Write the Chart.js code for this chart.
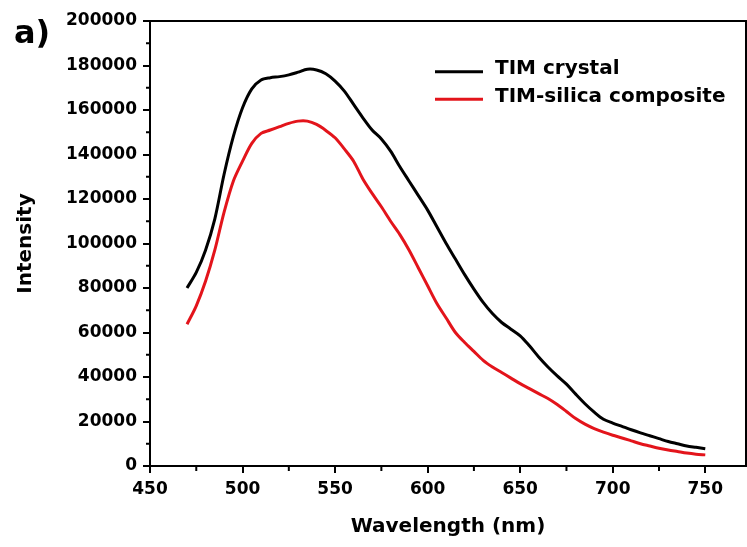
<!DOCTYPE html>
<html>
<head>
<meta charset="utf-8">
<script src="https://cdn.jsdelivr.net/npm/chart.js@4.4.1/dist/chart.umd.min.js"></script>
<style>
  html, body { margin: 0; padding: 0; background: #fff; }
  #chart { display: block; }
</style>
</head>
<body>
<canvas id="chart" width="747" height="547"></canvas>
<script>
// emission spectra
const wavelength = [470, 475, 480, 485, 490, 495, 500, 505, 510, 515, 520, 525, 530, 535, 540, 545, 550, 555, 560, 565,
  570, 575, 580, 585, 590, 595, 600, 605, 610, 615, 620, 625, 630, 635, 640, 645, 650, 655, 660, 665,
  670, 675, 680, 685, 690, 695, 700, 705, 710, 715, 720, 725, 730, 735, 740, 745, 750];
const crystal = [80000, 87000, 97000, 111000, 131000, 148000, 161000, 169500, 173500, 174500, 175000, 175800, 177000, 178300, 178000, 176300, 173000, 168500, 162500, 156500,
  151000, 147000, 141500, 134500, 128000, 121500, 115000, 107500, 100000, 93000, 86000, 79500, 73500, 68500, 64500, 61500, 58500, 54000, 49000, 44500,
  40500, 36800, 32300, 28000, 24200, 21000, 19300, 17800, 16300, 14900, 13600, 12300, 11000, 10000, 9000, 8400, 7800];
const composite = [63700, 72000, 83000, 97000, 114000, 128000, 137000, 145000, 149500, 151000, 152500, 154000, 155000, 155000, 153500, 150800, 147500, 142500, 137000, 129000,
  122500, 116500, 110000, 104000, 97000, 89000, 81000, 73000, 66500, 60000, 55500, 51500, 47500, 44500, 42000, 39500, 37000, 34800, 32500, 30300,
  27600, 24500, 21300, 18800, 16800, 15200, 13800, 12600, 11300, 10000, 9000, 8000, 7200, 6500, 5800, 5300, 5000];
const seriesNames = ['TIM crystal', 'TIM-silica composite'];
const seriesColors = ['#000000', '#e3141b'];

const xTicks = [450, 500, 550, 600, 650, 700, 750];
const yTicks = [0, 20000, 40000, 60000, 80000, 100000, 120000, 140000, 160000, 180000, 200000];

const toPoints = ys => wavelength.map((w, i) => ({ x: w, y: ys[i] }));

const FONT = 'DejaVu Sans';

// frame, minor ticks, legend and panel letter
const extras = {
  id: 'extras',
  afterDraw(chart) {
    const ctx = chart.ctx;
    const a = chart.chartArea;
    const xs = chart.scales.x, ys = chart.scales.y;
    ctx.save();
    ctx.strokeStyle = '#000';
    ctx.lineWidth = 2;
    ctx.beginPath();
    ctx.moveTo(a.left, a.top);
    ctx.lineTo(a.right, a.top);
    ctx.lineTo(a.right, a.bottom);
    ctx.stroke();

    // minor ticks
    ctx.beginPath();
    for (let v = 475; v < 772; v += 50) {
      const px = xs.getPixelForValue(v);
      ctx.moveTo(px, a.bottom);
      ctx.lineTo(px, a.bottom + 5);
    }
    for (let v = 10000; v < 200000; v += 20000) {
      const py = ys.getPixelForValue(v);
      ctx.moveTo(a.left, py);
      ctx.lineTo(a.left - 4, py);
    }
    ctx.stroke();

    // legend
    const lx = 435, lw = 48, tx = 495;
    const rows = [{ line: 71.7, base: 74.3 }, { line: 99.3, base: 101.7 }];
    chart.data.datasets.forEach((ds, i) => {
      ctx.strokeStyle = ds.borderColor;
      ctx.lineWidth = 3;
      ctx.beginPath();
      ctx.moveTo(lx, rows[i].line);
      ctx.lineTo(lx + lw, rows[i].line);
      ctx.stroke();
      ctx.fillStyle = '#000';
      ctx.font = 'bold 20px "' + FONT + '"';
      ctx.textBaseline = 'alphabetic';
      ctx.textAlign = 'left';
      ctx.fillText(ds.label, tx, rows[i].base);
    });

    ctx.font = 'bold 32px "' + FONT + '"';
    ctx.fillStyle = '#000';
    ctx.fillText('a)', 14, 43);
    ctx.restore();
  }
};

new Chart(document.getElementById('chart'), {
  type: 'line',
  data: {
    datasets: [
      { label: seriesNames[0], data: toPoints(crystal), borderColor: seriesColors[0], borderWidth: 3, pointRadius: 0, tension: 0.3, fill: false },
      { label: seriesNames[1], data: toPoints(composite), borderColor: seriesColors[1], borderWidth: 3, pointRadius: 0, tension: 0.3, fill: false }
    ]
  },
  options: {
    responsive: false,
    animation: false,
    layout: { padding: { top: 21, right: 1, left: 0, bottom: 0 } },
    plugins: { legend: { display: false }, tooltip: { enabled: false } },
    scales: {
      x: {
        type: 'linear',
        min: 450,
        max: 772,
        afterBuildTicks: s => { s.ticks = xTicks.map(v => ({ value: v })); },
        afterFit: s => { s.height = 81; },
        grid: { drawOnChartArea: false, color: '#000', lineWidth: 2, tickLength: 7 },
        border: { color: '#000', width: 2 },
        ticks: { color: '#000', padding: 6, maxRotation: 0, font: { family: FONT, size: 17, weight: 'bold' } },
        title: { display: true, text: 'Wavelength (nm)', color: '#000', padding: { top: 0, bottom: 8 }, font: { family: FONT, size: 20, weight: 'bold' } }
      },
      y: {
        min: 0,
        max: 200000,
        afterBuildTicks: s => { s.ticks = yTicks.map(v => ({ value: v })); },
        afterFit: s => { s.width = 150; },
        grid: { drawOnChartArea: false, color: '#000', lineWidth: 2, tickLength: 7 },
        border: { color: '#000', width: 2 },
        ticks: { color: '#000', padding: 6, callback: v => String(v), font: { family: FONT, size: 17, weight: 'bold' } },
        title: { display: true, text: 'Intensity', color: '#000', padding: { top: 14, bottom: 0 }, font: { family: FONT, size: 20, weight: 'bold' } }
      }
    }
  },
  plugins: [extras]
});
</script>
</body>
</html>
